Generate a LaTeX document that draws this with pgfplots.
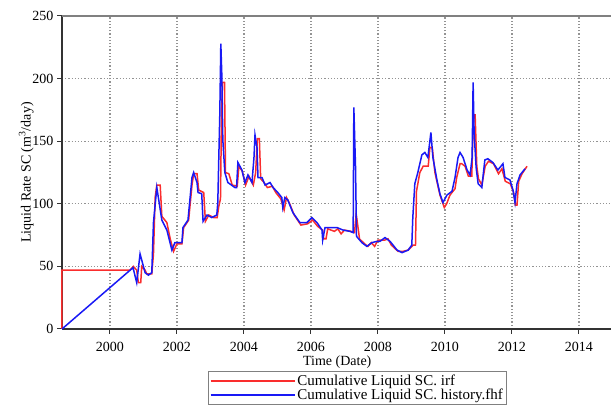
\documentclass[border=0pt]{standalone}
\usepackage{pgfplots}
\pgfplotsset{compat=1.18}
\usepackage{fontspec}
\setmainfont{Liberation Serif}

\definecolor{irfred}{RGB}{250,45,45}
\definecolor{fhfblue}{RGB}{25,25,245}

\begin{document}
\begin{tikzpicture}
\useasboundingbox (-62pt,-82pt) rectangle (549pt,329pt);
\begin{axis}[
  scale only axis,
  width=550.5pt, height=313pt,
  xmin=1998.57, xmax=2015,
  ymin=0, ymax=250,
  axis lines=left,
  axis line style={-, line width=1.4pt, black!80},
  xtick={2000,2002,...,2014},
  ytick={0,50,...,250},
  tick align=outside,
  major tick length=5pt,
  tick style={black!80, line width=1pt},
  grid=major,
  grid style={gray!85, line width=1.2pt, dash pattern=on 1.2pt off 2pt},
  /pgf/number format/1000 sep={},
  /pgf/number format/assume math mode=true,
  ticklabel style={font=\fontsize{14}{16}\selectfont},
  xticklabel style={yshift=-5pt},
  label style={font=\fontsize{14}{16}\selectfont},
  xlabel={Time (Date)},
  ylabel={Liquid Rate SC (m\textsuperscript{3}/day)},
  xlabel style={yshift=3pt},
  ylabel style={yshift=-8pt},
  legend style={at={(0.265,-0.133)}, anchor=north west,
    draw=gray, line width=1.2pt, font=\fontsize{15}{15}\selectfont,
    inner sep=1.5pt, row sep=-2pt, cells={anchor=west}},
  legend image code/.code={\draw[#1] (0pt,0pt) -- (84pt,0pt);},
  clip=false,
]
\addplot[irfred, line width=1.5pt] coordinates {
(1998.57,0) (1998.57,47) (2000.6,47) (2000.7,50) (2000.8,47) (2000.85,37) (2000.92,37)
(2000.95,50) (2001.05,47) (2001.1,44) (2001.25,44) (2001.3,60) (2001.35,105) (2001.4,115)
(2001.5,115) (2001.55,90) (2001.7,85) (2001.8,72) (2001.9,62) (2002.0,68) (2002.15,68)
(2002.2,81) (2002.35,87) (2002.45,115) (2002.5,124) (2002.6,124) (2002.65,111) (2002.8,109)
(2002.85,86) (2002.95,91) (2003.1,89) (2003.2,89) (2003.25,98) (2003.3,104) (2003.33,170)
(2003.36,197) (2003.42,197) (2003.45,125) (2003.55,124) (2003.65,115) (2003.8,114)
(2003.85,130) (2003.95,126) (2004.05,115) (2004.15,122) (2004.28,115) (2004.35,125)
(2004.4,152) (2004.46,152) (2004.5,120) (2004.6,117) (2004.7,113) (2004.85,114)
(2004.95,109) (2005.1,104) (2005.2,95) (2005.27,105) (2005.35,101) (2005.5,91) (2005.7,83)
(2005.9,84) (2006.05,87) (2006.2,82) (2006.35,79) (2006.38,72) (2006.45,72) (2006.5,80)
(2006.6,79) (2006.7,78) (2006.8,80) (2006.9,76) (2007.0,79) (2007.2,78) (2007.3,77)
(2007.35,92) (2007.4,82) (2007.45,72) (2007.6,68) (2007.7,66) (2007.8,69) (2007.9,66)
(2008.0,71) (2008.2,71) (2008.3,72) (2008.4,67) (2008.6,62) (2008.75,62) (2008.9,63)
(2009.05,67) (2009.12,67) (2009.15,110) (2009.25,125) (2009.35,130) (2009.5,130)
(2009.55,145) (2009.62,145) (2009.7,125) (2009.85,107) (2009.98,97) (2010.05,100)
(2010.15,107) (2010.3,112) (2010.35,121) (2010.45,132) (2010.5,132) (2010.6,130)
(2010.7,122) (2010.8,122) (2010.85,171) (2010.9,171) (2010.95,130) (2011.0,120)
(2011.1,115) (2011.2,130) (2011.3,134) (2011.45,132) (2011.6,124) (2011.7,128)
(2011.8,118) (2011.95,116) (2012.05,109) (2012.1,99) (2012.15,99) (2012.2,118)
(2012.3,124) (2012.45,130)
};
\addlegendentry{Cumulative Liquid SC. irf}
\addplot[fhfblue, line width=1.5pt] coordinates {
(1998.57,0) (2000.69,49) (2000.8,37) (2000.9,60) (2001.05,45) (2001.15,43) (2001.25,45)
(2001.3,85) (2001.4,113) (2001.55,87) (2001.7,79) (2001.85,63) (2001.94,69) (2002.15,69)
(2002.18,81) (2002.33,87) (2002.45,121) (2002.5,125) (2002.6,117) (2002.63,109)
(2002.74,108) (2002.78,86) (2002.9,91) (2003.04,89) (2003.19,91) (2003.22,101)
(2003.25,137) (2003.28,172) (2003.31,228) (2003.34,203) (2003.37,151) (2003.43,125)
(2003.52,117) (2003.73,113) (2003.78,113) (2003.82,133) (2003.94,127) (2004.03,117)
(2004.12,123) (2004.24,117) (2004.3,137) (2004.33,155) (2004.39,145) (2004.42,121)
(2004.54,121) (2004.63,115) (2004.78,117) (2004.87,113) (2005.01,109) (2005.13,105)
(2005.16,97) (2005.22,105) (2005.31,103) (2005.46,93) (2005.67,85) (2005.88,85)
(2006.03,89) (2006.18,85) (2006.33,79) (2006.35,71) (2006.42,81) (2006.57,81)
(2006.78,81) (2006.96,79) (2007.16,78) (2007.26,77) (2007.28,177) (2007.33,130)
(2007.36,74) (2007.52,69) (2007.67,66) (2007.82,69) (2007.97,70) (2008.06,70)
(2008.21,73) (2008.36,70) (2008.57,63) (2008.72,61) (2008.9,63) (2009.01,67)
(2009.04,89) (2009.1,116) (2009.19,125) (2009.31,139) (2009.4,141) (2009.49,137)
(2009.58,157) (2009.64,137) (2009.76,119) (2009.85,108) (2009.94,101) (2010.06,107)
(2010.21,110) (2010.3,121) (2010.39,137) (2010.45,141) (2010.54,137) (2010.66,127)
(2010.75,123) (2010.81,137) (2010.84,197) (2010.87,157) (2010.93,129) (2010.99,116)
(2011.1,113) (2011.19,135) (2011.28,136) (2011.43,133) (2011.58,127) (2011.73,132)
(2011.79,121) (2011.94,119) (2012.03,111) (2012.09,101) (2012.15,116) (2012.24,123)
(2012.39,128)
};
\addlegendentry{Cumulative Liquid SC. history.fhf}
\draw[gray, line width=1.4pt] (rel axis cs:0,1) -- (rel axis cs:1,1);
\end{axis}
\end{tikzpicture}
\end{document}
